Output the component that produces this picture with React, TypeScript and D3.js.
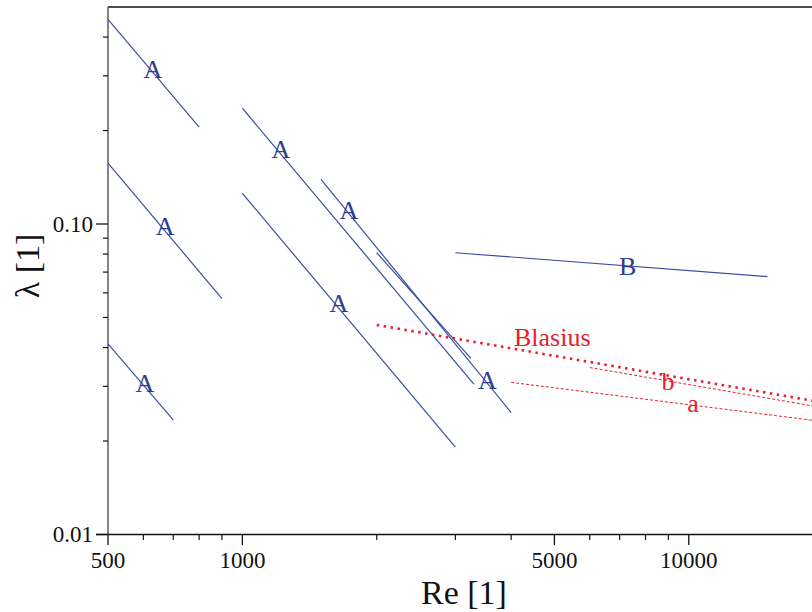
import React from "react";
import * as d3 from "d3";

// Blue correlation segments (type A and B)
const segmentRe: number[][] = [
  [500, 800],
  [500, 900],
  [500, 700],
  [1000, 3300],
  [1000, 3000],
  [1500, 4000],
  [2000, 3250],
  [3000, 15000],
];
const segmentLambda: number[][] = [
  [0.456, 0.205],
  [0.157, 0.0575],
  [0.0411, 0.0234],
  [0.236, 0.0305],
  [0.1256, 0.0191],
  [0.1393, 0.0247],
  [0.0808, 0.0369],
  [0.0808, 0.0677],
];

// Red reference curves
const blasiusRe = [2000, 20000];
const blasiusLambda = [0.0473, 0.0266];
const curveBRe = [6000, 20000];
const curveBLambda = [0.0345, 0.0256];
const curveARe = [4000, 20000];
const curveALambda = [0.0309, 0.0231];

// Labels
const blueLabels = ["A", "A", "A", "A", "A", "A", "A", "B"];
const blueLabelRe = [630, 671, 605, 1220, 1733, 1646, 3541, 7300];
const blueLabelLambda = [0.295, 0.0922, 0.0288, 0.1632, 0.1038, 0.0521, 0.0294, 0.0685];
const redLabels = ["Blasius", "b", "a"];
const redLabelRe = [4060, 8985, 10220];
const redLabelLambda = [0.0405, 0.0292, 0.02486];

// Ticks
const xMajorTicks = [500, 1000, 5000, 10000];
const xMajorLabels = ["500", "1000", "5000", "10000"];
const xMinorTicks = [600, 700, 800, 900, 2000, 3000, 4000, 6000, 7000, 8000, 9000];
const yMajorTicks = [0.01, 0.1];
const yMajorLabels = ["0.01", "0.10"];
const yMinorTicks = [0.02, 0.03, 0.04, 0.05, 0.06, 0.07, 0.08, 0.09, 0.2, 0.3, 0.4];

const W = 812;
const H = 612;
const left = 108;
const bottom = 534.5;
const top = 7;
const xDecade = 446.4;
const yDecade = 310.5;

const BLUE_LINE = "#3a4ca2";
const BLUE_TEXT = "#2b3d91";
const RED = "#e8202c";
const FONT = "'Liberation Serif', 'Times New Roman', serif";

export default function App() {
  const x = d3
    .scaleLog()
    .domain([500, 20000])
    .range([left, left + xDecade * Math.log10(20000 / 500)]);
  const y = d3
    .scaleLog()
    .domain([0.01, 0.5])
    .range([bottom, bottom - yDecade * Math.log10(0.5 / 0.01)]);

  const line = d3
    .line<[number, number]>()
    .x((d) => x(d[0]))
    .y((d) => y(d[1]));

  const pts = (re: number[], lam: number[]) =>
    re.map((r, i) => [r, lam[i]] as [number, number]);

  return (
    <svg
      width={W}
      height={H}
      style={{ position: "absolute", left: 0, top: 0, background: "#fff" }}
      fontFamily={FONT}
    >
      <defs>
        <clipPath id="plot">
          <rect x={left} y={top} width={W - left} height={bottom - top} />
        </clipPath>
      </defs>

      {/* frame */}
      <line x1={left} x2={W} y1={top} y2={top} stroke="#111" strokeWidth={1.5} />
      <line x1={left} x2={left} y1={top} y2={bottom} stroke="#666" strokeWidth={1.6} />
      <line x1={left - 12} x2={W} y1={bottom} y2={bottom} stroke="#111" strokeWidth={1.5} />

      {/* y ticks */}
      {yMajorTicks.map((t, i) => (
        <g key={"ym" + i}>
          <line x1={left - 12} x2={left} y1={y(t)} y2={y(t)} stroke="#111" strokeWidth={1.3} />
          <text x={left - 15} y={y(t) + 7.5} textAnchor="end" fontSize={23} fill="#111">
            {yMajorLabels[i]}
          </text>
        </g>
      ))}
      {yMinorTicks.map((t, i) => (
        <line key={"yn" + i} x1={left - 5} x2={left} y1={y(t)} y2={y(t)} stroke="#111" strokeWidth={1.2} />
      ))}

      {/* x ticks */}
      {xMajorTicks.map((t, i) => (
        <g key={"xm" + i}>
          <line x1={x(t)} x2={x(t)} y1={bottom} y2={bottom + 10.5} stroke="#111" strokeWidth={1.3} />
          <text x={x(t)} y={bottom + 33.5} textAnchor="middle" fontSize={23} fill="#111">
            {xMajorLabels[i]}
          </text>
        </g>
      ))}
      {xMinorTicks.map((t, i) => (
        <line key={"xn" + i} x1={x(t)} x2={x(t)} y1={bottom} y2={bottom + 5.5} stroke="#111" strokeWidth={1.2} />
      ))}

      {/* axis titles */}
      <text x={464} y={604} textAnchor="middle" fontSize={34} fill="#111">
        Re [1]
      </text>
      <text
        transform={`translate(39, 266) rotate(-90)`}
        textAnchor="middle"
        fontSize={34}
        fill="#111"
      >
        λ [1]
      </text>

      <g clipPath="url(#plot)">
        {/* blue segments */}
        {segmentRe.map((re, i) => (
          <path
            key={"s" + i}
            d={line(pts(re, segmentLambda[i])) || ""}
            fill="none"
            stroke={BLUE_LINE}
            strokeWidth={1.2}
          />
        ))}

        {/* red curves */}
        <path
          d={line(pts(blasiusRe, blasiusLambda)) || ""}
          fill="none"
          stroke={RED}
          strokeWidth={2.6}
          strokeDasharray="2.5 4.5"
        />
        <path
          d={line(pts(curveBRe, curveBLambda)) || ""}
          fill="none"
          stroke={RED}
          strokeWidth={1}
          strokeDasharray="3 2"
        />
        <path
          d={line(pts(curveARe, curveALambda)) || ""}
          fill="none"
          stroke={RED}
          strokeWidth={1}
          strokeDasharray="3 2"
        />
      </g>

      {/* labels */}
      {blueLabels.map((t, i) => (
        <text
          key={"bl" + i}
          x={x(blueLabelRe[i])}
          y={y(blueLabelLambda[i])}
          textAnchor="middle"
          fontSize={26}
          fill={BLUE_TEXT}
        >
          {t}
        </text>
      ))}
      {redLabels.map((t, i) => (
        <text
          key={"rl" + i}
          x={x(redLabelRe[i])}
          y={y(redLabelLambda[i])}
          textAnchor={i === 0 ? "start" : "middle"}
          fontSize={26}
          fill={RED}
        >
          {t}
        </text>
      ))}
    </svg>
  );
}
